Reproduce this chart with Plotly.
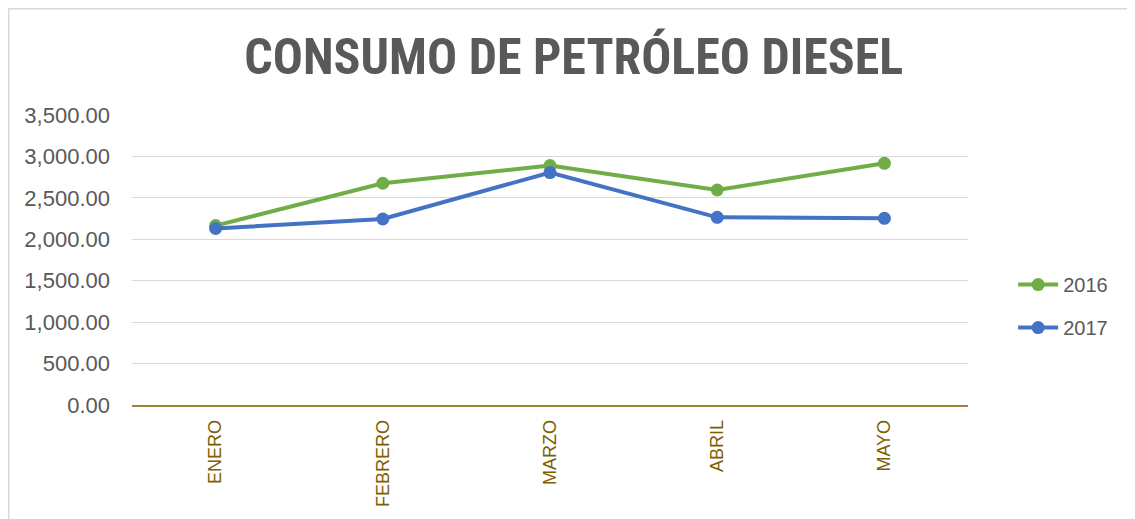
import plotly.graph_objects as go

months = ["ENERO", "FEBRERO", "MARZO", "ABRIL", "MAYO"]
y2016 = [2165, 2676, 2890, 2595, 2917]
y2017 = [2130, 2245, 2805, 2265, 2253]
y_ticks = [0, 500, 1000, 1500, 2000, 2500, 3000, 3500]

W, H = 1127, 511
L, R, T, B = 124, 167, 107, 114
PW, PH = W - L - R, H - T - B

fig = go.Figure()
fig.add_trace(go.Scatter(x=months, y=y2016, name="2016", mode="lines+markers",
                         legendgroup="a",
                         line=dict(color="#70AD47", width=4),
                         marker=dict(color="#70AD47", size=13)))
fig.add_trace(go.Scatter(x=months, y=y2017, name="2017", mode="lines+markers",
                         legendgroup="b",
                         line=dict(color="#4472C4", width=4),
                         marker=dict(color="#4472C4", size=13)))

def px_x(fx):
    return (fx - L) / PW

def px_y(fy):
    return (H - B - fy) / PH

fig.update_layout(
    width=W, height=H,
    margin=dict(l=L, r=R, t=T, b=B),
    paper_bgcolor="white", plot_bgcolor="white",
    title=dict(text="<b>CONSUMO DE PETRÓLEO DIESEL</b>",
               font=dict(family="Liberation Sans Narrow, Arial Narrow, Roboto Condensed, Liberation Sans, sans-serif",
                         size=50, color="#595959"),
               x=0.502, xanchor="center", y=0.905, yanchor="middle", xref="container", yref="container"),
    xaxis=dict(type="category", range=[-0.5, len(months) - 0.5], showgrid=False, showline=True,
               linecolor="#A0803A", linewidth=1.5,
               tickangle=-90, ticks="", ticklabelstandoff=6,
               tickfont=dict(family="Liberation Sans, Arial, sans-serif", size=18, color="#7F6000")),
    yaxis=dict(range=[0, 3500], tickvals=y_ticks, tickformat=",.2f", showgrid=True,
               gridcolor="#D9D9D9", gridwidth=1, zeroline=False, showline=False, ticks="",
               ticklabelstandoff=21,
               tickfont=dict(family="Liberation Sans, Arial, sans-serif", size=22, color="#595959")),
    legend=dict(x=1.054, y=0.341, xanchor="left", yanchor="middle",
                font=dict(family="Liberation Sans, Arial, sans-serif", size=20, color="#595959"),
                tracegroupgap=14, itemwidth=40),
    shapes=[
        dict(type="line", xref="paper", yref="paper",
             x0=px_x(0), x1=px_x(W), y0=px_y(0.5), y1=px_y(0.5),
             line=dict(color="#D9D9D9", width=2)),
        dict(type="line", xref="paper", yref="paper",
             x0=px_x(0.5), x1=px_x(0.5), y0=px_y(0), y1=px_y(H),
             line=dict(color="#D9D9D9", width=2)),
    ],
)

fig.write_html("out.html")
